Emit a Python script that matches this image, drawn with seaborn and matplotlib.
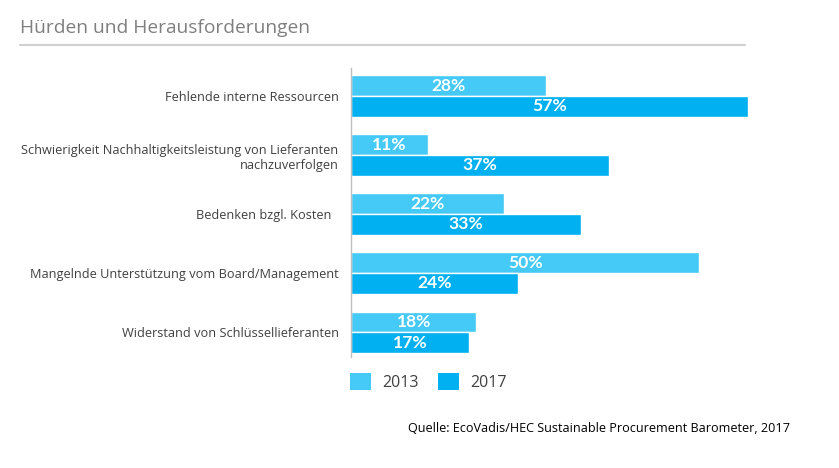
import pandas as pd
import matplotlib.pyplot as plt
import seaborn as sns
from matplotlib.patches import Patch
from matplotlib.lines import Line2D

categories = [
    "Fehlende interne Ressourcen",
    "Schwierigkeit Nachhaltigkeitsleistung von Lieferanten\nnachzuverfolgen",
    "Bedenken bzgl. Kosten  ",
    "Mangelnde Unterstützung vom Board/Management",
    "Widerstand von Schlüssellieferanten",
]
years = ["2013", "2017"]
values_2013 = [28, 11, 22, 50, 18]
values_2017 = [57, 37, 33, 24, 17]
colors = {"2013": "#45C9F6", "2017": "#00B0F0"}

df = pd.DataFrame({
    "cat": categories * 2,
    "year": ["2013"] * len(categories) + ["2017"] * len(categories),
    "val": values_2013 + values_2017,
})

sns.set_style("white")
plt.rcParams["font.family"] = ["Open Sans", "DejaVu Sans"]

fig = plt.figure(figsize=(8.39, 4.68), dpi=100)
ax = fig.add_axes([351 / 839, 1 - 357 / 468, 397 / 839, 289 / 468])

sns.barplot(data=df, y="cat", x="val", hue="year", orient="h", width=0.7,
            palette=colors, saturation=1, legend=False, ax=ax)

for p in ax.patches:
    w = p.get_width()
    if w <= 0:
        continue
    ax.text(p.get_x() + w / 2, p.get_y() + p.get_height() / 2, f"{w:.0f}%",
            ha="center", va="center", color="white", fontsize=12.6,
            fontweight="bold", family=["Lato", "DejaVu Sans"])

ax.set_xlim(0, 57)
ax.set_ylim(4.42, -0.475)
ax.set_xlabel("")
ax.set_ylabel("")
ax.set_xticks([])
for s in ["top", "right", "bottom"]:
    ax.spines[s].set_visible(False)
ax.spines["left"].set_color("#BFBFBF")
ax.spines["left"].set_linewidth(1)
ax.tick_params(axis="y", length=0, pad=9, labelsize=9.2, labelcolor="#404040")

handles = [Patch(facecolor=colors[y], edgecolor="none", label=y) for y in years]
fig.legend(handles=handles, loc="center left", bbox_to_anchor=(336 / 839, 1 - 382 / 468),
           ncol=2, frameon=False, fontsize=11.5, handlelength=1.3, handleheight=1.3,
           handletextpad=0.7, columnspacing=1.2, labelcolor="#404040")

fig.text(20 / 839, 1 - 28 / 468, "Hürden und Herausforderungen", fontsize=13.8,
         color="#7F7F7F", va="center", ha="left")
fig.add_artist(Line2D([20 / 839, 745 / 839], [1 - 45 / 468, 1 - 45 / 468],
                      color="#D0D0D0", linewidth=1.5))
fig.text(790 / 839, 1 - 428 / 468,
         "Quelle: EcoVadis/HEC Sustainable Procurement Barometer, 2017",
         fontsize=9.1, color="black", ha="right", va="center")

fig.savefig("out.png", dpi=100)
